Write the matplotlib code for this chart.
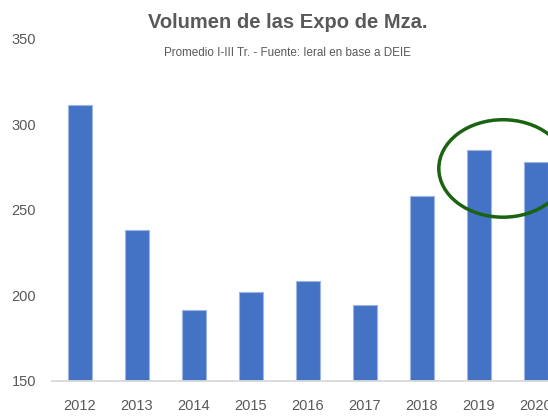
import matplotlib
matplotlib.use('Agg')
import matplotlib.pyplot as plt
from matplotlib.patches import Ellipse

# datos
years = ['2012', '2013', '2014', '2015', '2016', '2017', '2018', '2019', '2020']
volumen = [311, 238, 191, 202, 208, 194, 258, 285, 278]
y_ticks = [150, 200, 250, 300, 350]

TITLE = "Volumen de las Expo de Mza."
SUBTITLE = "Promedio I-III Tr. - Fuente: Ieral en base a DEIE"
BAR_COLOR = '#4472C4'
TEXT_COLOR = '#595959'

plt.rcParams['font.family'] = ['Liberation Sans', 'DejaVu Sans']

W, H = 548, 419
fig = plt.figure(figsize=(W / 100, H / 100), dpi=100)
# el eje se sale por la derecha (la figura original esta recortada)
left_px, bottom_px, step_px = 51.5, 38.5, 57.0
ax = fig.add_axes([left_px / W, bottom_px / H, 9 * step_px / W, 342 / H])

x = range(len(years))
ax.bar(x, [v - 150 for v in volumen], bottom=150, width=0.41,
       color=BAR_COLOR, edgecolor='#9fb6e3', linewidth=0.8, zorder=2)

ax.set_xlim(-0.5, len(years) - 0.5)
ax.set_ylim(150, 350)
ax.set_yticks(y_ticks)
ax.set_xticks(list(x))
ax.set_xticklabels(years)
ax.tick_params(axis='both', length=0, labelsize=10.5, colors=TEXT_COLOR)
ax.tick_params(axis='y', pad=11)
ax.tick_params(axis='x', pad=13)

for s in ['top', 'right', 'left']:
    ax.spines[s].set_visible(False)
ax.spines['bottom'].set_color('#d9d9d9')
ax.spines['bottom'].set_linewidth(1.3)
ax.spines['bottom'].set_zorder(3)

# circulo verde destacando 2019-2020
ell = Ellipse((7.42, 274), width=2.25, height=57, fill=False,
              edgecolor='#1a6310', linewidth=2.5, clip_on=False, zorder=4)
ax.add_patch(ell)

fig.text(287.5 / W, 1 - 22 / H, TITLE, ha='center', va='center',
         fontsize=14.5, fontweight='bold', color=TEXT_COLOR)
fig.text(287.5 / W, 1 - 53 / H, SUBTITLE, ha='center', va='center',
         fontsize=8.4, color=TEXT_COLOR)

fig.savefig('out.png', dpi=100)
